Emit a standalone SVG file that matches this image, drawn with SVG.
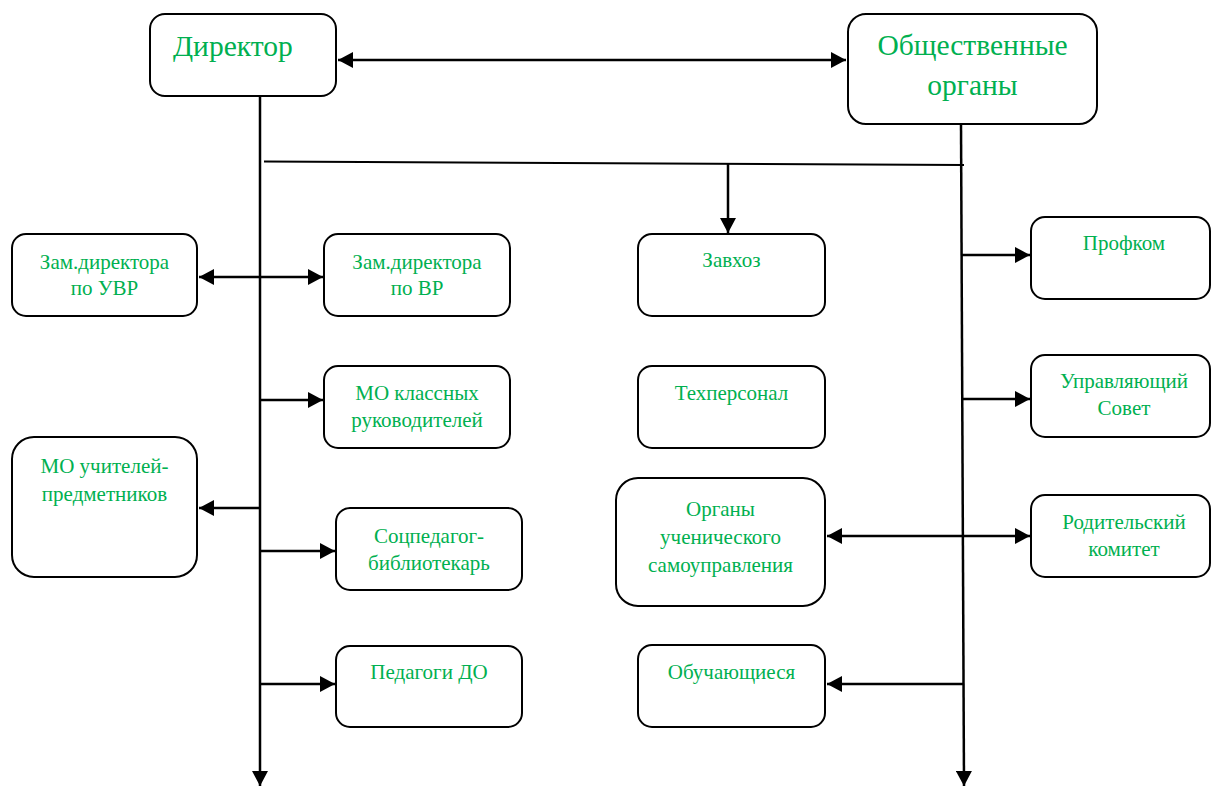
<svg xmlns="http://www.w3.org/2000/svg" width="1211" height="787" viewBox="0 0 1211 787">
<style>
.box{fill:#fff;stroke:#000;stroke-width:2}
.t{font-family:"Liberation Serif","Times New Roman",serif;font-size:21px;fill:#00B050;text-anchor:middle}
.big{font-size:29.5px}
.c{fill:none;stroke:#000;stroke-width:2.5}
</style>
<defs>
<marker id="ah" markerUnits="userSpaceOnUse" markerWidth="15" markerHeight="16" refX="15" refY="8" orient="auto-start-reverse" viewBox="0 0 15 16">
<path d="M0,0 L15,8 L0,16 z" fill="#000"/>
</marker>
</defs>
<rect width="1211" height="787" fill="#fff"/>
<g id="connectors">
<line class="c" x1="338" y1="60" x2="846" y2="60" marker-start="url(#ah)" marker-end="url(#ah)"/>
<line class="c" x1="260" y1="96" x2="260" y2="786" marker-end="url(#ah)"/>
<line class="c" x1="961" y1="124" x2="964" y2="786" marker-end="url(#ah)"/>
<line class="c" style="stroke-width:2" x1="264" y1="161.5" x2="964" y2="165"/>
<line class="c" x1="728" y1="164" x2="728" y2="233" marker-end="url(#ah)"/>
<line class="c" x1="199" y1="277" x2="323" y2="277" marker-start="url(#ah)" marker-end="url(#ah)"/>
<line class="c" x1="260" y1="400" x2="323" y2="400" marker-end="url(#ah)"/>
<line class="c" x1="260" y1="508" x2="199" y2="508" marker-end="url(#ah)"/>
<line class="c" x1="260" y1="551" x2="335" y2="551" marker-end="url(#ah)"/>
<line class="c" x1="260" y1="684" x2="335" y2="684" marker-end="url(#ah)"/>
<line class="c" x1="827" y1="536" x2="1030" y2="536" marker-start="url(#ah)" marker-end="url(#ah)"/>
<line class="c" x1="962" y1="255" x2="1030" y2="255" marker-end="url(#ah)"/>
<line class="c" x1="963" y1="399" x2="1030" y2="399" marker-end="url(#ah)"/>
<line class="c" x1="963" y1="684" x2="827" y2="684" marker-end="url(#ah)"/>
</g>
<g id="director">
<rect class="box" x="150" y="14" width="186" height="82" rx="15"/>
<text class="t big" x="173" y="56" style="text-anchor:start">Директор</text>
</g>
<g id="public-bodies">
<rect class="box" x="848" y="14" width="249" height="110" rx="18"/>
<text class="t big" x="972.5" y="55">Общественные</text>
<text class="t big" x="972.5" y="95">органы</text>
</g>
<g id="deputy-uvr">
<rect class="box" x="12" y="234" width="185" height="82" rx="14"/>
<text class="t" x="104.5" y="269">Зам.директора</text>
<text class="t" x="104.5" y="295">по УВР</text>
</g>
<g id="deputy-vr">
<rect class="box" x="324" y="234" width="186" height="82" rx="14"/>
<text class="t" x="417" y="269">Зам.директора</text>
<text class="t" x="417" y="295">по ВР</text>
</g>
<g id="mo-class">
<rect class="box" x="324" y="366" width="186" height="82" rx="14"/>
<text class="t" x="417" y="400">МО классных</text>
<text class="t" x="417" y="427">руководителей</text>
</g>
<g id="mo-teachers">
<rect class="box" x="12" y="437" width="185" height="140" rx="22"/>
<text class="t" x="104.5" y="473">МО учителей-</text>
<text class="t" x="104.5" y="501">предметников</text>
</g>
<g id="social-librarian">
<rect class="box" x="336" y="508" width="186" height="82" rx="14"/>
<text class="t" x="429" y="543">Соцпедагог-</text>
<text class="t" x="429" y="570">библиотекарь</text>
</g>
<g id="pedagogues-do">
<rect class="box" x="336" y="646" width="186" height="81" rx="14"/>
<text class="t" x="429" y="679">Педагоги ДО</text>
</g>
<g id="zavhoz">
<rect class="box" x="638" y="234" width="187" height="82" rx="14"/>
<text class="t" x="731.5" y="267">Завхоз</text>
</g>
<g id="techstaff">
<rect class="box" x="638" y="366" width="187" height="82" rx="14"/>
<text class="t" x="731.5" y="400">Техперсонал</text>
</g>
<g id="student-government">
<rect class="box" x="616" y="478" width="209" height="128" rx="22"/>
<text class="t" x="720.5" y="516">Органы</text>
<text class="t" x="720.5" y="544">ученического</text>
<text class="t" x="720.5" y="572">самоуправления</text>
</g>
<g id="students">
<rect class="box" x="638" y="645" width="187" height="82" rx="14"/>
<text class="t" x="731.5" y="679">Обучающиеся</text>
</g>
<g id="profkom">
<rect class="box" x="1031" y="217" width="179" height="82" rx="14"/>
<text class="t" x="1124" y="250">Профком</text>
</g>
<g id="governing-council">
<rect class="box" x="1031" y="355" width="179" height="82" rx="14"/>
<text class="t" x="1124" y="388">Управляющий</text>
<text class="t" x="1124" y="415">Совет</text>
</g>
<g id="parents-committee">
<rect class="box" x="1031" y="495" width="179" height="82" rx="14"/>
<text class="t" x="1124" y="529">Родительский</text>
<text class="t" x="1124" y="556">комитет</text>
</g>
</svg>
